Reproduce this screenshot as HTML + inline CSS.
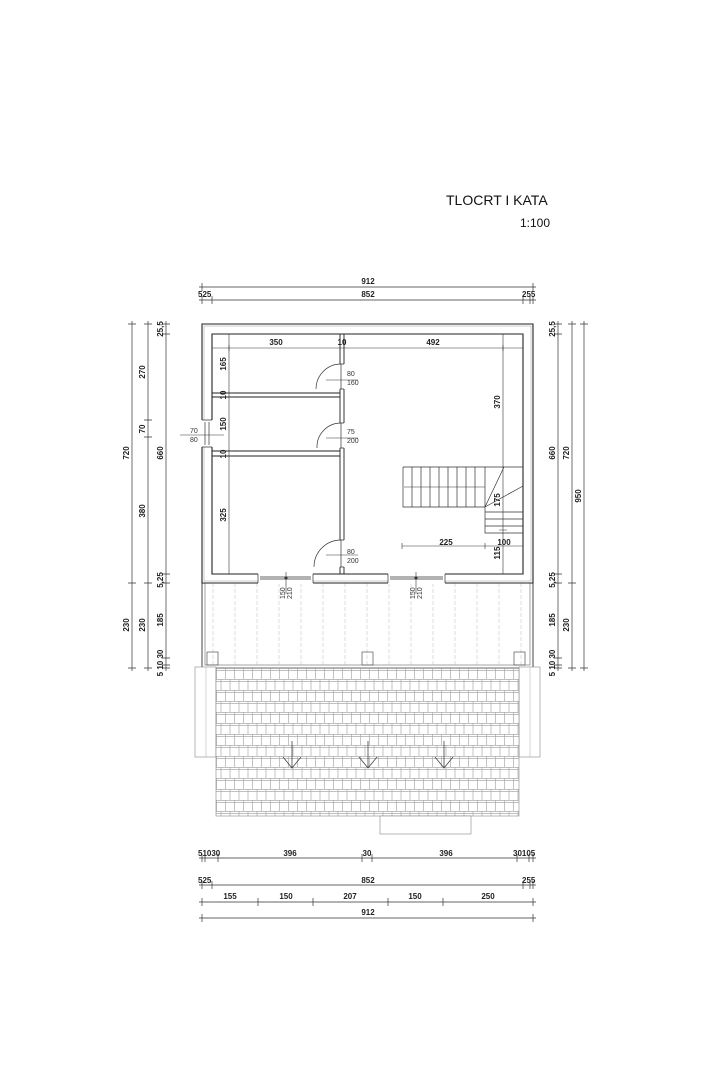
<!DOCTYPE html>
<html><head><meta charset="utf-8"><style>
html,body{margin:0;padding:0;background:#fff;}
svg{display:block;font-family:"Liberation Sans",sans-serif;}
.d{font-size:8px;font-weight:bold;fill:#222;}
.s{font-size:7px;fill:#333;}
</style></head><body>
<svg width="720" height="1080" viewBox="0 0 720 1080" xmlns="http://www.w3.org/2000/svg">
<defs>
<pattern id="tile" x="216" y="668" width="18" height="22" patternUnits="userSpaceOnUse">
<rect width="18" height="22" fill="#fff"/>
<path d="M0 0.5H18M0 11.5H18M0.5 0V11M9.5 0V11M5 11V22M14 11V22M0 2.5H18M0 13.5H18" stroke="#aaa" stroke-width="0.7" fill="none"/>
</pattern>
</defs>
<text x="446" y="205" font-size="14" fill="#111">TLOCRT I KATA</text>
<text x="520" y="227" font-size="12" fill="#111">1:100</text>

<g stroke="#333" stroke-width="0.7" fill="none">
<line x1="199" y1="287" x2="536" y2="287"/>
<line x1="199" y1="300" x2="536" y2="300"/>
<path d="M202 283v8M533 283v8M202 296v8M212 296v8M523 296v8M530 296v8M533 296v8"/>
<line x1="132" y1="321" x2="132" y2="671"/>
<line x1="148" y1="321" x2="148" y2="671"/>
<line x1="166" y1="321" x2="166" y2="671"/>
<path d="M128 324h8M128 583h8M128 668h8M144 324h8M144 420h8M144 437h8M144 583h8M144 668h8M162 324h8M162 334h8M162 574h8M162 583h8M162 658h8M162 665h8M162 668h8"/>
<line x1="558" y1="321" x2="558" y2="671"/>
<line x1="572" y1="321" x2="572" y2="671"/>
<line x1="584" y1="321" x2="584" y2="671"/>
<path d="M554 324h8M554 334h8M554 574h8M554 583h8M554 658h8M554 665h8M554 668h8M568 324h8M568 583h8M568 668h8M580 324h8M580 668h8"/>
<line x1="199" y1="858" x2="536" y2="858"/>
<line x1="199" y1="885" x2="536" y2="885"/>
<line x1="199" y1="902" x2="536" y2="902"/>
<line x1="199" y1="918" x2="536" y2="918"/>
<path d="M202 854v8M205 854v8M218 854v8M362 854v8M372 854v8M517 854v8M529 854v8M533 854v8M202 881v8M212 881v8M523 881v8M530 881v8M533 881v8M202 898v8M258 898v8M313 898v8M388 898v8M443 898v8M533 898v8M202 914v8M533 914v8"/>
</g>

<rect x="202" y="583" width="331" height="85" fill="#fff" stroke="#444" stroke-width="1"/>
<rect x="205" y="583" width="325" height="82" fill="none" stroke="#666" stroke-width="0.6"/>
<g stroke="#bbb" stroke-width="0.5" stroke-dasharray="4,2">
<path d="M213 583v82M235 583v82M257 583v82M279 583v82M301 583v82M323 583v82M345 583v82M367 583v82M389 583v82M411 583v82M433 583v82M455 583v82M477 583v82M499 583v82M521 583v82"/>
</g>
<g fill="none" stroke="#555" stroke-width="0.7">
<rect x="207" y="652" width="11" height="13"/><rect x="362" y="652" width="11" height="13"/><rect x="514" y="652" width="11" height="13"/>
</g>
<rect x="195" y="667" width="21" height="90" fill="#fff" stroke="#888" stroke-width="0.6"/>
<rect x="519" y="667" width="21" height="90" fill="#fff" stroke="#888" stroke-width="0.6"/>
<line x1="206" y1="667" x2="206" y2="757" stroke="#aaa" stroke-width="0.5"/>
<line x1="530" y1="667" x2="530" y2="757" stroke="#aaa" stroke-width="0.5"/>
<rect x="216" y="668" width="303" height="148" fill="url(#tile)" stroke="#888" stroke-width="0.6"/>
<rect x="380" y="816" width="91" height="18" fill="#fff" stroke="#888" stroke-width="0.6"/>
<g stroke="#444" stroke-width="0.8" fill="none">
<path d="M292 741v27M283 757l9 11 9-11M368 741v27M359 757l9 11 9-11M444 741v27M435 757l9 11 9-11"/>
</g>

<path d="M202 324H533V583H202Z M212 334V574H523V334Z" fill="#fff" fill-rule="evenodd" stroke="#222" stroke-width="1.1"/>
<rect x="204" y="326" width="327" height="255" fill="none" stroke="#999" stroke-width="0.5"/>
<rect x="258" y="573" width="55" height="11" fill="#fff"/>
<rect x="388" y="573" width="57" height="11" fill="#fff"/>
<g stroke="#333" stroke-width="0.7" fill="none">
<path d="M258 574v9M313 574v9M388 574v9M445 574v9M260 577h51M260 579h51M390 577h53M390 579h53"/>
<circle cx="286" cy="578" r="1.2" fill="#333"/><circle cx="416" cy="578" r="1.2" fill="#333"/>
</g>
<rect x="201" y="420" width="12" height="27" fill="#fff"/>
<g stroke="#333" stroke-width="0.7" fill="none"><path d="M202 420h10M202 447h10M205 422v23M209 422v23"/></g>
<g stroke="#222" stroke-width="0.9" fill="none">
<path d="M340 334V574M344 334V574"/>
<path d="M212 393H340M212 397H340M212 451H340M212 456H340"/>
</g>
<rect x="339" y="364" width="6" height="25" fill="#fff"/>
<rect x="339" y="423" width="6" height="25" fill="#fff"/>
<rect x="339" y="540" width="6" height="27" fill="#fff"/>
<g stroke="#333" stroke-width="0.7" fill="none">
<path d="M340 364h4M340 389h4M341 364v25M316 389A25 25 0 0 1 341 364"/>
<path d="M340 423h4M340 448h4M341 423v25M317 448A24 24 0 0 1 341 423"/>
<path d="M340 540h4M340 567h4M341 540v27M314 567A27 27 0 0 1 341 540"/>
</g>
<g stroke="#333" stroke-width="0.7" fill="none">
<path d="M403 467H523M403 467V507H485V533H523"/>
<path d="M412 467v40M421 467v40M430 467v40M439 467v40M448 467v40M457 467v40M466 467v40M475 467v40M485 467v40"/>
<path d="M485 512h38M485 519h38M485 526h38"/>
<path d="M485 507L504 467M485 507L523 486"/>
<path d="M404 487h81" stroke-width="0.5"/>
</g>
<g stroke="#333" stroke-width="0.6" fill="none">
<path d="M212 348H523M229 334V574M503 334V574M402 546H523"/>
<path d="M229 345v6M340 345v6M344 345v6M503 345v6M225 393h8M225 397h8M225 451h8M225 456h8M499 530h8M402 543v6M485 543v6"/>
<path d="M326 380h32M326 438h32M326 555h32M180 435h44"/>
<path d="M286 572v22M416 572v22"/>
</g>

<g class="d">
<text x="368" y="284" text-anchor="middle">912</text>
<text x="368" y="297" text-anchor="middle">852</text>
<text x="198" y="297">525</text>
<text x="522" y="297">255</text>
<text x="276" y="345" text-anchor="middle">350</text>
<text x="342" y="345" text-anchor="middle">10</text>
<text x="433" y="345" text-anchor="middle">492</text>
<text x="446" y="545" text-anchor="middle">225</text>
<text x="504" y="545" text-anchor="middle">100</text>
<text x="198" y="856">51030</text>
<text x="290" y="856" text-anchor="middle">396</text>
<text x="367" y="856" text-anchor="middle">30</text>
<text x="446" y="856" text-anchor="middle">396</text>
<text x="513" y="856">30105</text>
<text x="368" y="883" text-anchor="middle">852</text>
<text x="198" y="883">525</text>
<text x="522" y="883">255</text>
<text x="230" y="899" text-anchor="middle">155</text>
<text x="286" y="899" text-anchor="middle">150</text>
<text x="350" y="899" text-anchor="middle">207</text>
<text x="415" y="899" text-anchor="middle">150</text>
<text x="488" y="899" text-anchor="middle">250</text>
<text x="368" y="915" text-anchor="middle">912</text>
</g>
<g class="d">
<text transform="translate(129 453) rotate(-90)" text-anchor="middle">720</text>
<text transform="translate(129 625) rotate(-90)" text-anchor="middle">230</text>
<text transform="translate(145 372) rotate(-90)" text-anchor="middle">270</text>
<text transform="translate(145 429) rotate(-90)" text-anchor="middle">70</text>
<text transform="translate(145 511) rotate(-90)" text-anchor="middle">380</text>
<text transform="translate(145 625) rotate(-90)" text-anchor="middle">230</text>
<text transform="translate(163 329) rotate(-90)" text-anchor="middle">25,5</text>
<text transform="translate(163 453) rotate(-90)" text-anchor="middle">660</text>
<text transform="translate(163 580) rotate(-90)" text-anchor="middle">5,25</text>
<text transform="translate(163 620) rotate(-90)" text-anchor="middle">185</text>
<text transform="translate(163 663) rotate(-90)" text-anchor="middle">5 10 30</text>
<text transform="translate(555 329) rotate(-90)" text-anchor="middle">25,5</text>
<text transform="translate(555 453) rotate(-90)" text-anchor="middle">660</text>
<text transform="translate(555 580) rotate(-90)" text-anchor="middle">5,25</text>
<text transform="translate(555 620) rotate(-90)" text-anchor="middle">185</text>
<text transform="translate(555 663) rotate(-90)" text-anchor="middle">5 10 30</text>
<text transform="translate(569 453) rotate(-90)" text-anchor="middle">720</text>
<text transform="translate(569 625) rotate(-90)" text-anchor="middle">230</text>
<text transform="translate(581 496) rotate(-90)" text-anchor="middle">950</text>
<text transform="translate(226 364) rotate(-90)" text-anchor="middle">165</text>
<text transform="translate(226 395) rotate(-90)" text-anchor="middle">10</text>
<text transform="translate(226 424) rotate(-90)" text-anchor="middle">150</text>
<text transform="translate(226 454) rotate(-90)" text-anchor="middle">10</text>
<text transform="translate(226 515) rotate(-90)" text-anchor="middle">325</text>
<text transform="translate(500 402) rotate(-90)" text-anchor="middle">370</text>
<text transform="translate(500 500) rotate(-90)" text-anchor="middle">175</text>
<text transform="translate(500 553) rotate(-90)" text-anchor="middle">115</text>
</g>
<g class="s">
<text x="347" y="376">80</text><text x="347" y="385">160</text>
<text x="347" y="434">75</text><text x="347" y="443">200</text>
<text x="347" y="554">80</text><text x="347" y="563">200</text>
<text x="190" y="433">70</text><text x="190" y="442">80</text>
<text transform="translate(285 599) rotate(-90)">150</text>
<text transform="translate(292 599) rotate(-90)">210</text>
<text transform="translate(415 599) rotate(-90)">150</text>
<text transform="translate(422 599) rotate(-90)">210</text>
</g>
</svg>
</body></html>
